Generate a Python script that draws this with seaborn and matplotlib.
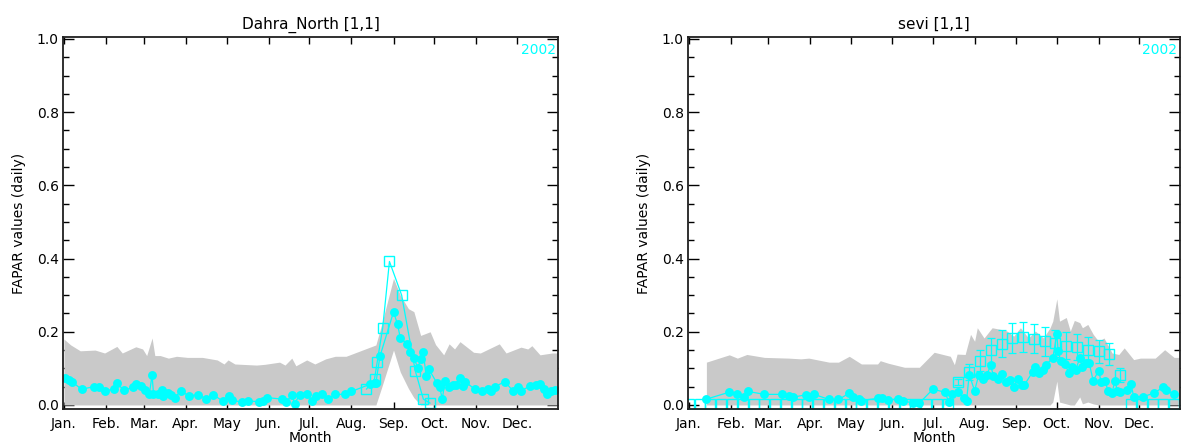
import numpy as np
import pandas as pd
import seaborn as sns
import matplotlib
matplotlib.use('Agg')
import matplotlib.pyplot as plt
from matplotlib.ticker import MultipleLocator

# month ticks (day of year of month start)
month_days = [1, 32, 60, 91, 121, 152, 182, 213, 244, 274, 305, 335]
month_labels = ['Jan.', 'Feb.', 'Mar.', 'Apr.', 'May', 'Jun.', 'Jul.', 'Aug.',
                'Sep.', 'Oct.', 'Nov.', 'Dec.']
year_label = '2002'

# ---- Dahra_North ----
dn_env_day = [1, 6, 13, 24, 31, 40, 44, 54, 59, 62, 66, 68, 72, 78, 84, 92, 103, 114, 119,
              122, 127, 143, 149, 160, 164, 169, 172, 180, 186, 194, 201, 209, 231, 235,
              244, 249, 255, 259, 264, 271, 275, 281, 285, 289, 293, 303, 308, 322, 327,
              338, 343, 346, 352, 361, 365]
dn_env_hi = [0.180, 0.164, 0.148, 0.150, 0.142, 0.160, 0.142, 0.159, 0.153, 0.135, 0.183,
             0.135, 0.135, 0.128, 0.133, 0.130, 0.130, 0.123, 0.112, 0.123, 0.112, 0.109,
             0.111, 0.117, 0.109, 0.128, 0.107, 0.123, 0.112, 0.126, 0.133, 0.133, 0.164,
             0.217, 0.346, 0.300, 0.263, 0.255, 0.190, 0.200, 0.165, 0.137, 0.167, 0.153,
             0.173, 0.144, 0.142, 0.167, 0.142, 0.158, 0.153, 0.162, 0.137, 0.142, 0.142]
dn_env_lo = [0.0] * 32 + [0.0, 0.045, 0.150, 0.090, 0.045, 0.020, 0.0, 0.0, 0.0, 0.0,
                          0.0, 0.0, 0.0, 0.0, 0.0, 0.0, 0.0, 0.0, 0.0, 0.0, 0.0, 0.0, 0.0]

dn_day = [2, 5, 7, 14, 23, 27, 31, 38, 40, 45, 52, 54, 58, 61, 64, 66, 67, 70, 73, 74, 78,
          80, 83, 87, 93, 100, 106, 111, 118, 123, 125, 132, 137, 145, 148, 151, 162, 165,
          169, 171, 175, 180, 184, 187, 191, 196, 201, 208, 213, 227, 230, 231, 234, 244,
          247, 249, 254, 256, 259, 262, 264, 266, 268, 270, 276, 278, 280, 282, 285, 288,
          290, 293, 295, 297, 304, 309, 314, 316, 319, 326, 332, 336, 338, 345, 349, 352,
          355, 357, 360, 363]
dn_val = [0.073, 0.069, 0.063, 0.043, 0.050, 0.050, 0.039, 0.043, 0.061, 0.040, 0.048,
          0.057, 0.052, 0.041, 0.031, 0.082, 0.031, 0.031, 0.041, 0.025, 0.034, 0.027,
          0.020, 0.039, 0.025, 0.028, 0.016, 0.028, 0.011, 0.025, 0.013, 0.008, 0.011,
          0.009, 0.011, 0.020, 0.016, 0.008, 0.028, 0.004, 0.028, 0.031, 0.011, 0.025,
          0.029, 0.016, 0.029, 0.029, 0.037, 0.057, 0.061, 0.060, 0.133, 0.254, 0.220,
          0.183, 0.167, 0.144, 0.128, 0.101, 0.126, 0.144, 0.080, 0.098, 0.060, 0.048,
          0.017, 0.066, 0.050, 0.054, 0.054, 0.075, 0.052, 0.063, 0.043, 0.039, 0.045,
          0.037, 0.050, 0.064, 0.039, 0.050, 0.039, 0.052, 0.054, 0.056, 0.045, 0.031,
          0.039, 0.040]

dn_sq_day = [224, 230, 232, 236, 241, 250, 260, 266, 271]
dn_sq_val = [0.043, 0.071, 0.118, 0.210, 0.392, 0.300, 0.094, 0.016, 0.005]

# ---- sevi ----
sv_env_day = [14, 31, 37, 44, 57, 75, 84, 90, 105, 112, 120, 129, 141, 143, 149, 161, 172,
              183, 195, 198, 200, 206, 210, 213, 215, 220, 226, 233, 237, 242, 247, 253,
              258, 264, 269, 271, 274, 276, 281, 284, 287, 291, 293, 297, 301, 305, 309,
              315, 320, 324, 331, 336, 347, 354, 361, 365]
sv_env_hi = [0.117, 0.137, 0.128, 0.138, 0.130, 0.128, 0.126, 0.128, 0.117, 0.117, 0.133,
             0.112, 0.112, 0.121, 0.114, 0.103, 0.103, 0.144, 0.133, 0.110, 0.139, 0.138,
             0.193, 0.174, 0.211, 0.183, 0.211, 0.206, 0.202, 0.188, 0.211, 0.183, 0.202,
             0.183, 0.211, 0.229, 0.290, 0.229, 0.239, 0.202, 0.231, 0.225, 0.211, 0.220,
             0.193, 0.174, 0.183, 0.142, 0.138, 0.156, 0.124, 0.128, 0.128, 0.151, 0.130,
             0.130]
sv_env_lo = [0.0] * 31 + [0.0, 0.0, 0.0, 0.0, 0.008, 0.065, 0.008, 0.003, 0.0, 0.0,
                          0.022, 0.003, 0.008, 0.003, 0.0, 0.0, 0.0, 0.0, 0.0, 0.0, 0.0,
                          0.0, 0.0, 0.0, 0.0]

sv_day = [14, 31, 37, 42, 45, 57, 70, 75, 78, 88, 90, 94, 105, 112, 120, 123, 127, 129,
          141, 144, 149, 156, 160, 167, 172, 182, 191, 194, 196, 201, 205, 207, 209, 213,
          216, 219, 222, 225, 227, 230, 233, 236, 239, 242, 245, 248, 250, 256, 258, 261,
          264, 266, 271, 274, 275, 277, 280, 283, 285, 288, 291, 293, 296, 298, 301, 305,
          307, 310, 312, 315, 317, 319, 321, 326, 329, 331, 338, 346, 353, 355, 361]
sv_val = [0.016, 0.035, 0.029, 0.023, 0.037, 0.029, 0.029, 0.025, 0.021, 0.028, 0.023,
          0.029, 0.015, 0.015, 0.032, 0.021, 0.016, 0.012, 0.018, 0.018, 0.014, 0.016,
          0.012, 0.005, 0.005, 0.043, 0.035, 0.007, 0.031, 0.035, 0.018, 0.011, 0.083,
          0.039, 0.081, 0.072, 0.083, 0.108, 0.078, 0.072, 0.084, 0.062, 0.069, 0.048,
          0.072, 0.055, 0.055, 0.090, 0.103, 0.087, 0.096, 0.110, 0.128, 0.193, 0.147,
          0.119, 0.112, 0.087, 0.104, 0.096, 0.128, 0.103, 0.115, 0.115, 0.066, 0.094,
          0.062, 0.066, 0.037, 0.032, 0.066, 0.039, 0.035, 0.041, 0.058, 0.023, 0.023,
          0.032, 0.049, 0.041, 0.029]

# 8-day composites, day 1, 9, ..., 361
sv_sq_day = list(range(1, 362, 8))
sv_sq_val = [0.002] * 25 + [0.062, 0.090, 0.121, 0.150, 0.167, 0.183, 0.186, 0.181, 0.174,
                            0.168, 0.162, 0.158, 0.151, 0.147, 0.140, 0.083] + [0.002] * 5
sv_sq_err = [0.0] * 25 + [0.008, 0.022, 0.028, 0.034, 0.037, 0.040, 0.041, 0.040, 0.039,
                          0.037, 0.037, 0.036, 0.035, 0.031, 0.030, 0.019] + [0.0] * 5

sns.set_theme(style='ticks')
plt.rcParams['font.family'] = ['DejaVu Sans']
plt.rcParams.update({'text.color': 'black', 'axes.labelcolor': 'black',
                     'xtick.color': 'black', 'ytick.color': 'black'})

CYAN = '#00ffff'
GREY = '#c9c9c9'


def draw_panel(ax, title, env_day, env_hi, env_lo, day, val, sq_day, sq_val,
               sq_err=None, sq_line=True):
    ax.fill_between(env_day, env_lo, env_hi, color=GREY, lw=0, zorder=1)

    df = pd.DataFrame({'day': day, 'val': val})
    sns.lineplot(data=df, x='day', y='val', ax=ax, sort=False, estimator=None,
                 color=CYAN, lw=0.9, marker='o', markersize=6.4, markeredgewidth=0,
                 zorder=4)

    sq = pd.DataFrame({'day': sq_day, 'val': sq_val})
    if sq_err is not None:
        err = np.array(sq_err)
        m = err > 0
        ax.errorbar(np.array(sq_day)[m], np.array(sq_val)[m], yerr=err[m], fmt='none',
                    ecolor=CYAN, elinewidth=0.9, capsize=3, capthick=0.9, zorder=3)
    sns.lineplot(data=sq, x='day', y='val', ax=ax, sort=False, estimator=None,
                 color=CYAN, lw=0.9 if sq_line else 0, marker='s', markersize=7,
                 markerfacecolor='none', markeredgecolor=CYAN, markeredgewidth=1.0,
                 zorder=5)

    ax.set_xlim(0.3, 365.3)
    ax.set_ylim(-0.011, 1.005)
    ax.set_xticks(month_days)
    ax.set_xticklabels(month_labels)
    ax.yaxis.set_major_locator(MultipleLocator(0.2))
    ax.yaxis.set_minor_locator(MultipleLocator(0.05))
    ax.yaxis.set_major_formatter(plt.FuncFormatter(lambda v, p: '%.1f' % v))
    ax.tick_params(axis='y', which='major', direction='in', length=8, width=1,
                   left=True, right=True, labelsize=10, pad=3)
    ax.tick_params(axis='y', which='minor', direction='in', length=4, width=1,
                   left=True, right=True)
    ax.tick_params(axis='x', which='major', direction='in', length=5, width=1,
                   top=True, bottom=True, labelsize=10, pad=6)
    for s in ax.spines.values():
        s.set_linewidth(1.3)
        s.set_color('#202020')
        s.set_zorder(6)
    ax.set_title(title, fontsize=11, pad=6)
    ax.set_xlabel('Month', fontsize=10, labelpad=0)
    ax.set_ylabel('FAPAR values (daily)', fontsize=10, labelpad=8)
    ax.text(0.995, 0.985, year_label, transform=ax.transAxes, ha='right', va='top',
            color=CYAN, fontsize=10)


fig = plt.figure(figsize=(11.82, 4.47), dpi=100)
ax1 = fig.add_axes([0.0533, 0.085, 0.4188, 0.832])
ax2 = fig.add_axes([0.582, 0.085, 0.4162, 0.832])

draw_panel(ax1, 'Dahra_North [1,1]', dn_env_day, dn_env_hi, dn_env_lo, dn_day, dn_val,
           dn_sq_day, dn_sq_val)
draw_panel(ax2, 'sevi [1,1]', sv_env_day, sv_env_hi, sv_env_lo, sv_day, sv_val,
           sv_sq_day, sv_sq_val, sq_err=sv_sq_err, sq_line=False)

fig.savefig('out.png', dpi=100)
